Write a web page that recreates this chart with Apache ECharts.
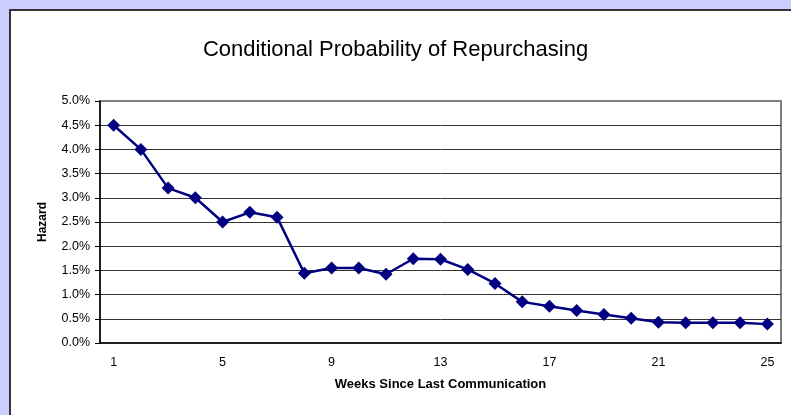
<!DOCTYPE html>
<html>
<head>
<meta charset="utf-8">
<script src="https://cdn.jsdelivr.net/npm/echarts@6/dist/echarts.min.js"></script>
<style>
html, body { margin: 0; padding: 0; background: #ccccff; }
#hazardChart { width: 791px; height: 415px; }
</style>
</head>
<body>
<div id="hazardChart"></div>
<script>
// weeks since last communication
var weeks = ['1', '2', '3', '4', '5', '6', '7', '8', '9', '10', '11', '12', '13',
    '14', '15', '16', '17', '18', '19', '20', '21', '22', '23', '24', '25'];
// hazard, in percent
var hazard = [4.5, 4.0, 3.2, 3.0, 2.5, 2.7, 2.6, 1.44, 1.55, 1.55, 1.42, 1.74, 1.73,
    1.52, 1.23, 0.85, 0.76, 0.67, 0.59, 0.51, 0.43, 0.42, 0.42, 0.42, 0.39];

var chart = echarts.init(document.getElementById('hazardChart'));
var fontName = '"Liberation Sans", Arial, sans-serif';

var option = {
    backgroundColor: '#ccccff',
    animation: false,
    graphic: [{
        type: 'rect',
        z: -10,
        silent: true,
        shape: { x: 10, y: 10, width: 800, height: 420 },
        style: { fill: '#ffffff', stroke: '#333333', lineWidth: 2 }
    }],
    title: {
        text: 'Conditional Probability of Repurchasing',
        left: 'center',
        top: 34,
        textStyle: {
            fontFamily: fontName,
            fontSize: 22,
            fontWeight: 'normal',
            color: '#000'
        }
    },
    grid: {
        left: 100,
        right: 10,
        top: 101,
        bottom: 72,
        show: true,
        backgroundColor: '#ffffff',
        borderColor: '#808080',
        borderWidth: 2
    },
    xAxis: {
        type: 'category',
        data: weeks,
        boundaryGap: true,
        name: 'Weeks Since Last Communication',
        nameLocation: 'middle',
        nameGap: 35,
        nameTextStyle: {
            fontFamily: fontName,
            fontSize: 13,
            fontWeight: 'bold',
            color: '#000'
        },
        axisLine: { lineStyle: { color: '#000', width: 1.5 } },
        axisTick: { interval: 0, length: 5, lineStyle: { color: '#000' } },
        axisLabel: {
            interval: 3,
            margin: 13,
            fontFamily: fontName,
            fontSize: 12.5,
            color: '#000'
        }
    },
    yAxis: {
        type: 'value',
        min: 0,
        max: 5,
        interval: 0.5,
        name: 'Hazard',
        nameLocation: 'middle',
        nameGap: 51,
        nameTextStyle: {
            fontFamily: fontName,
            fontSize: 12,
            fontWeight: 'bold',
            color: '#000'
        },
        axisLine: { show: true, lineStyle: { color: '#000', width: 1.5 } },
        axisTick: { show: true, length: 5, lineStyle: { color: '#000' } },
        axisLabel: {
            margin: 10,
            fontFamily: fontName,
            fontSize: 12.5,
            color: '#000',
            formatter: function (v) { return v.toFixed(1) + '%'; }
        },
        splitLine: {
            show: true,
            showMinLine: false,
            showMaxLine: false,
            lineStyle: { color: '#333', width: 1 }
        }
    },
    series: [{
        name: 'Hazard',
        type: 'line',
        data: hazard,
        symbol: 'diamond',
        symbolSize: 13,
        lineStyle: { color: '#000080', width: 2.5 },
        itemStyle: { color: '#000080' }
    }]
};
chart.setOption(option);
</script>
</body>
</html>
